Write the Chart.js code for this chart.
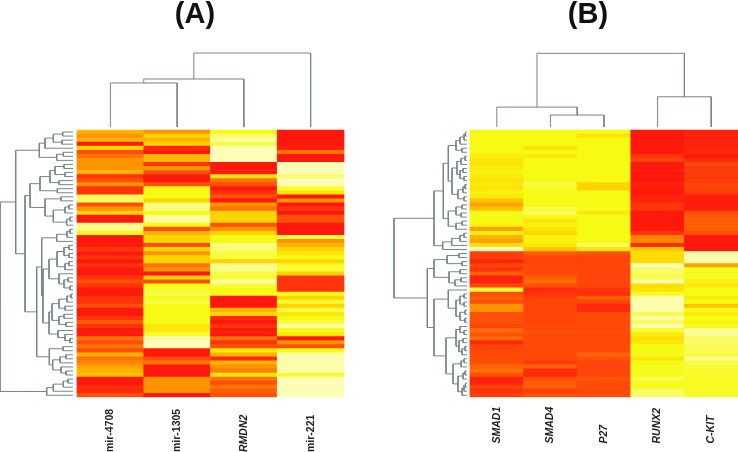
<!DOCTYPE html>
<html>
<head>
<meta charset="utf-8">
<script src="https://cdn.jsdelivr.net/npm/chart.js"></script>
<style>
html,body{margin:0;padding:0;background:#fff;width:738px;height:452px;overflow:hidden}
canvas{position:absolute;top:0}
</style>
</head>
<body>
<canvas id="a" width="390" height="452" style="left:0"></canvas>
<canvas id="b" width="416" height="452" style="left:380px"></canvas>
<script>
// Colour level of each cell, first row at the top (0 = palest, 6 = red)
const mir4708=[3.5,4,3.5,6,3,5,4.5,4,4,4, 3.5,5.5,5,4,5.5,5.5,1.2,1.2,5,4, 3,6,6,.7,.7,2,6,6,6,5.5, 6,5.5,6,5.5,6,6,5.5,5,5.5,6, 6,5.5,5.5,5,6,6,5.5,4.8,5.5,6, 6,4.5,5,4.5,5,3.5,4.5,4.2,3.8,3.5, 3.3,6,6,5.7,5.7,5];
const mir1305=[4,3,3.5,3,5.7,6,3.5,3.5,5.5,4, 5,6,6,5,2,2,2,3,.8,.8, 2,.5,.5,2,5,3.5,3,3,5,3, 4,3,3,4.5,4,6,3,5,2,1.7, 1.4,2,1.4,2,2,2,2,2,2.5,2.5, 1.8,.3,.3,.3,6,6,5,4.5,6,6, 6,4,4,4,4,6];
const rmdn2=[2,1,.5,1.5,.3,.3,.3,.3,6,6, 6,2.5,4.5,5,6,5.5,5,6,4,4.5, 3,3,3,5,4,3,2,2,.8,1, 1.5,1.5,3,.7,.7,1.5,1.5,.5,1.5,2, 2,6,6,6,3.5,3,5.7,6,5.5,6, 6,4.5,5.5,5,2.5,3.5,5.7,3.5,4,4.3, 2.5,4.5,5,4.5,4.8,5];
const mir221=[6,6,6,6,5.8,4.5,6,6,.3,.3, .3,1,.3,.3,1.7,2.5,6,4,6,5.5, 6,5,5,6,6,6,1.5,4,3.5,3, 2.5,2,3,1.8,1.7,3,5.5,5.5,5.5,5.5, 2,3,1.7,3,1.5,2.5,2,1.5,.5,2, 2.5,6,4,5,2,.4,.4,.4,.4,.4, 1.7,.3,.3,.3,.3,.3];
const smad1=[2,2,2,2,2,2,2.3,2.6,2.6,2.4, 2.2,2.4,2.6,2.4,2.6,2.2,2.4,3.3,3.8,3.3, 2,2,2,2.2,3.8,2.3,3.5,3.8,2.7,.3, 5.3,5.3,5.8,5.2,5.5,4.8,5.8,5.8,5.2,1.7, 5,4.8,5,4,4,5,5,5,5.2,4.6, 5,4.6,5.7,5.2,5.2,5.1,5.1,5,4.7,4.5, 5,5.8,5.8,5.3,5.5,5.3];
const smad4=[2,2,2,2,2.6,2,2.4,2,2,2, 2,2,2,1.4,1.8,2,2,2,2,1.5, 1.2,2,2.5,2.2,2.6,3,2.2,2.2,2.5,3.2, 4.8,5.2,5.2,5.1,5.1,5.1,4.8,4.6,5,5.7, 5.5,5.3,5.2,5.2,5.2,5.2,5.2,5.2,5.1,5.1, 5.1,5.1,5.1,5.1,5.1,5.1,5.1,5.4,4.7,5.7, 5.7,5,4.8,4.8,5.3,5];
const p27=[2,2.6,2,2,2,2,2,2,2,2, 2,2,2,3,3,2,2,2,2,1.9, 2.5,2,2,2,2,2,2,2,1.2,2.6, 5,5.2,5.2,5.2,5.2,5.2,5.2,5.2,5.2,5.5, 5.6,4.8,5.2,5.7,5.7,5.1,5.1,5.1,5.1,5.1, 5.1,5.1,5.1,5.1,5.1,4.7,5,5.2,5.2,5.2, 5.2,4.9,5.1,5.1,5.1,5.1];
const runx2=[6,6,6,6,6,6,5.5,5.2,6,6, 6,6,6,5.8,5.9,6,5.8,5.8,5.5,5.5, 6,6,6,6,6,5.5,4.3,4.2,5.6,3.2, 2.8,2.8,2.8,.3,1,1.2,1.3,.4,2.7,2.6, 1.8,.4,.4,.4,.4,1.3,.5,1.1,.4,1.7, 2.4,2.7,2.5,2,2,1.9,2.5,2,1.9,1.9, 1.9,1.3,1.9,1.9,1.1,1.1];
const ckit=[5.8,5.8,5.8,5.8,5.8,5.7,6,5.7,5.2,5.4, 5.4,5.4,5.4,5.2,5.2,5.4,5.9,5.9,5.9,5.9, 5,4.9,4.8,4.8,4.8,5,6,6,6,6, .4,.4,.5,3.8,1.9,1.9,1.8,2.2,2.4,2, 2,2.4,2,3.3,2,2.4,2,2.1,1.9,.6, .6,1.1,1.1,1.3,1.3,1.5,.6,1.5,1.5,1.8, 1.8,1.8,1.8,1.8,1.8,1.8];

const labelsA=['mir-4708','mir-1305','RMDN2','mir-221'];
const labelsB=['SMAD1','SMAD4','P27','RUNX2','C-KIT'];
const columnsA=[mir4708,mir1305,rmdn2,mir221];
const columnsB=[smad1,smad4,p27,runx2,ckit];

// Dendrograms: [merge height, child, child]; 0 is a leaf, leaves run in display order
const topTreeA=[1,[.649,[.595,0,0],0],0];
const topTreeB=[1,[.27,0,[.162,0,0]],[.41,0,0]];
const rowTreeA=[73,
  [57.3,
    [33.7,[28,[19.7,[10.3,0,0],[11,0,0]],0],[16.3,[9.7,0,0],0]],
    [48,
      [43,
        [33,[23,[18,[9,0,0],[8,0,0]],[14,0,0]],[15.7,0,0]],
        [28,[12,0,0],[19.7,[8,[4,0,0],0],[6.3,[3,0,0],0]]]],
      [36.3,
        [31.3,
          [16.3,[6,[3,0,0],0],0],
          [30,
            [24,[16,[9,[4,0,0],[4,0,0]],[8,[4,0,0],0]],[14,0,[9,[5,0,0],[3,0,0]]]],
            [24,[21,[14,[6,[2,0,0],0],[8,0,0]],[14,[9,0,0],[7,0,0]]],[15,0,[8,0,[3,0,0]]]]]],
        [23.7,[10,0,0],[20.3,[13,[7,0,0],0],[12,0,[7,0,0]]]]]]],
  [26.3,[19.7,[9.7,[5,0,0],0],0],0]];
const rowTreeB=[73,
  [33,
    [23.7,
      [18.7,
        [11,[7,[3,[1.5,0,0],0],0],[5,0,0]],
        [15,[10,[6,[2,0,0],0],[7,[4,0,0],[3,0,0]]],[9,[4,[2,0,0],0],[3,0,0]]]],
      [18.7,[11,[5,0,0],[6,0,0]],[11,[5,0,0],0]]],
    [24.3,[15.3,[7,[3,0,0],0],0],0]],
  [39.7,
    [33,[20,[8,0,0],[5,0,0]],[18,[7,0,0],[12,[6,0,0],0]]],
    [33,
      [18.7,0,[11,[7,[3,0,0],[3,0,0]],[7,[2,0,0],[2,0,0]]]],
      [21,
        [11,[7,0,[3,0,0]],[8,[4,0,0],[5,[2,0,0],0]]],
        [14,[6,[3,0,0],0],[9,[4,[2,0,0],0],[5,[3,[1.5,0,0],0],0]]]]]]];

const rowCount=mir4708.length;
const ramp=[[255,253,212],[250,252,110],[247,250,20],[255,212,0],[255,148,0],[255,80,8],[255,24,12]];
function heat(v){
  const i=Math.min(5,Math.floor(v)),t=v-i;
  const c=ramp[i].map((a,k)=>Math.round(a+(ramp[i+1][k]-a)*t));
  return `rgb(${c[0]},${c[1]},${c[2]})`;
}
// Turn a tree into polyline points: [position along the leaves, height], with gaps between links
function treePoints(tree){
  const out=[];let next=0;
  const walk=n=>{
    if(n===0){return{p:.5+next++,h:0};}
    const a=walk(n[1]),b=walk(n[2]);
    out.push([a.p,a.h],[a.p,n[0]],[b.p,n[0]],[b.p,b.h],[null,null]);
    return{p:(a.p+b.p)/2,h:n[0]};
  };
  walk(tree);
  return out;
}
const FONT='"Liberation Sans", Arial, sans-serif';
const TREE_COLOR='#76858a';
function panel(id,title,labels,columns,topTree,rowTree,g){
  const colW=(g.right-g.left)/labels.length;
  const rowH=(g.bottom-g.top)/rowCount;
  const areaTop=39;
  const xMin=-g.left/colW,xMax=(g.w-g.left)/colW;
  const cells=[];
  columns.forEach((col,c)=>col.forEach((v,r)=>cells.push({x:c+.5,y:[r,r+1],v})));
  const unitT=g.leafY-g.rootY;
  new Chart(document.getElementById(id),{
    type:'bar',
    data:{datasets:[
      {type:'bar',data:cells,xAxisID:'x',yAxisID:'y',grouped:false,categoryPercentage:1,barPercentage:1,
       backgroundColor:ctx=>ctx.raw?heat(ctx.raw.v):'#fff',borderWidth:0},
      {type:'line',data:treePoints(rowTree).map(p=>({x:p[1],y:p[0]})),xAxisID:'xL',yAxisID:'y',
       borderColor:TREE_COLOR,borderWidth:1,pointRadius:0,tension:0,spanGaps:false,fill:false},
      {type:'line',data:treePoints(topTree).map(p=>({x:p[0],y:p[1]})),xAxisID:'xT',yAxisID:'yT',
       borderColor:TREE_COLOR,borderWidth:1,pointRadius:0,tension:0,spanGaps:false,fill:false}
    ]},
    options:{
      responsive:false,animation:false,events:[],
      layout:{padding:0},
      plugins:{
        legend:{display:false},tooltip:{enabled:false},
        title:{display:true,text:title,color:'#111',padding:{top:0,bottom:10},
               font:{family:FONT,size:29,weight:'bold',lineHeight:1}}
      },
      scales:{
        x:{type:'linear',position:'bottom',min:xMin,max:xMax,offset:false,
           grid:{display:false,drawTicks:false},border:{display:false},
           afterBuildTicks:s=>{s.ticks=labels.map((_,i)=>({value:i+.5}));},
           afterFit:s=>{s.height=452-g.bottom;s._getXAxisLabelAlignment=()=>'left';},
           ticks:{autoSkip:false,minRotation:90,maxRotation:90,padding:g.labelY-g.bottom,color:'#222',
             callback:v=>labels[Math.floor(v)],
             font:ctx=>({family:FONT,size:g.labelSize,weight:'bold',
               style:ctx.tick&&labels[Math.floor(ctx.tick.value)].startsWith('mir-')?'normal':'italic'})}},
        xT:{type:'linear',display:false,offset:false,min:xMin,max:xMax},
        xL:{type:'linear',display:false,offset:false,reverse:true,min:g.leafX-g.w,max:g.leafX},
        y:{type:'linear',display:false,reverse:true,min:-(g.top-areaTop)/rowH,max:rowCount},
        yT:{type:'linear',display:false,min:(g.leafY-g.bottom)/unitT,max:(g.leafY-areaTop)/unitT}
      }
    }
  });
}
panel('a','(A)',labelsA,columnsA,topTreeA,rowTreeA,
  {w:390,left:77,right:344,top:130,bottom:397.3,leafX:73,leafY:127,rootY:53,labelY:452,labelSize:10.5});
panel('b','(B)',labelsB,columnsB,topTreeB,rowTreeB,
  {w:416,left:90,right:358,top:130,bottom:397.3,leafX:87,leafY:127,rootY:53.3,labelY:443.5,labelSize:10.5});
</script>
</body>
</html>
